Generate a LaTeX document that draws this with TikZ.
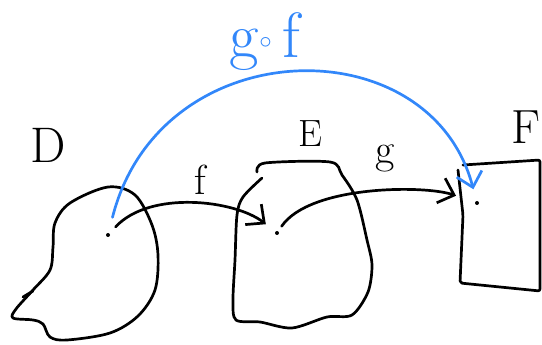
\documentclass[tikz,border=0pt]{standalone}
\usepackage{fontspec}
\usepackage{tikz}
\usetikzlibrary{arrows.meta}
\definecolor{sketchblue}{RGB}{50,135,250}

\begin{document}
\begin{tikzpicture}[x=1pt, y=-1pt, >={Straight Barb[length=14pt,width=26pt]}]
\tikzset{
  ink/.style={line width=2.7pt, line cap=round, line join=round},
  lbl/.style={inner sep=0pt, font=\fontsize{48}{48}\selectfont},
  pt/.style={circle, fill, inner sep=0pt, minimum size=4pt}
}
\useasboundingbox (0,0) rectangle (542,345);
\draw[ink] plot[smooth cycle, tension=0.55] coordinates {(55,223) (70,203) (108,187) (135,195) (152,225) (158,255) (155,290) (138,316) (110,333) (67,340) (50,337) (43,324) (33,320) (13,318) (16,309) (33,290) (50,270) (53,247)};
\draw[ink] (23,297) -- (33,291);
\draw[ink] plot[smooth, tension=0.5] coordinates {(257,172) (265,163) (330,162) (342,175) (357,200) (367,240) (372,265) (368,292) (352,315) (327,317) (292,328) (260,322) (236,320) (233,300) (235,260) (237,215) (243,197) (262,178)};
\draw[ink, rounded corners=2pt] (458,170) -- (463,215) -- (460,283) -- (540,291) -- (540,160) -- (463,165);
\node[pt] (d) at (108,235) {};
\node[pt] (e) at (277,233) {};
\node[pt] (p) at (477,203) {};
\node[lbl, font=\fontsize{50}{50}\selectfont] (dl) at (48,145) {D};
\node[lbl, font=\fontsize{38}{38}\selectfont] (el) at (310,134) {E};
\node[lbl] (fl) at (526,127) {F};
\node[lbl, font=\fontsize{42}{42}\selectfont] (flab) at (200,180) {f};
\node[lbl, font=\fontsize{42}{42}\selectfont] (glab) at (385,158) {g};
\node[lbl, text=sketchblue, font=\fontsize{64}{64}\selectfont] (gf) at (265,42) {g\raisebox{9pt}{$\circ$}\,f};
\draw[ink, ->, shorten <=9pt, shorten >=12pt] (d) .. controls (150,190) and (235,200) .. (e);
\draw[ink, ->, shorten <=6pt, shorten >=20pt] (e) .. controls (310,185) and (425,185) .. (p);
\draw[ink, ->, sketchblue, shorten <=16pt, shorten >=12pt] (d) .. controls (160,30) and (430,25) .. (p);
\end{tikzpicture}
\end{document}
